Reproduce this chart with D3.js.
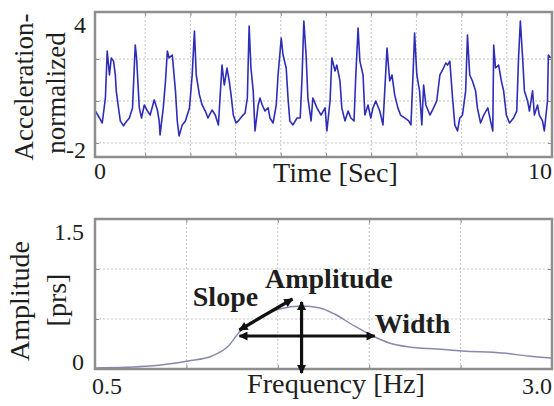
<!DOCTYPE html>
<html lang="en">
  <head>
    <meta charset="utf-8">
    <title>Acceleration signal and amplitude spectrum</title>
    <script src="https://d3js.org/d3.v7.min.js"></script>
    <style>
      body { margin: 0; background: #fff; }
    </style>
  </head>
  <body>
  <div id="chart"></div>
<script>

// acceleration trace
var accTime = [-0.10,-0.01,0.05,0.12,0.16,0.21,0.25,0.30,0.34,0.36,0.41,0.45,0.52,0.56,0.65,0.72,0.78,0.81,0.87,0.92,
  0.98,1.05,1.11,1.20,1.27,1.31,1.33,1.40,1.45,1.49,1.53,1.60,1.67,1.71,1.75,1.82,1.89,1.98,2.04,2.09,
  2.13,2.20,2.26,2.33,2.39,2.48,2.55,2.62,2.66,2.70,2.75,2.81,2.86,2.90,2.95,3.01,3.06,3.15,3.21,3.26,
  3.30,3.34,3.39,3.43,3.50,3.54,3.59,3.65,3.72,3.76,3.83,3.90,3.94,4.01,4.05,4.12,4.16,4.20,4.27,4.36,
  4.43,4.47,4.51,4.56,4.60,4.67,4.71,4.80,4.89,4.98,5.02,5.09,5.13,5.20,5.24,5.31,5.35,5.42,5.49,5.55,
  5.62,5.66,5.71,5.75,5.82,5.86,5.93,5.99,6.04,6.10,6.19,6.26,6.30,6.35,6.41,6.46,6.52,6.59,6.65,6.74,
  6.83,6.88,6.94,6.96,7.01,7.07,7.12,7.16,7.21,7.30,7.38,7.45,7.52,7.60,7.65,7.69,7.74,7.80,7.85,7.91,
  7.96,8.02,8.09,8.13,8.18,8.24,8.31,8.35,8.42,8.49,8.58,8.64,8.69,8.71,8.75,8.82,8.88,8.93,8.99,9.06,
  9.15,9.22,9.26,9.30,9.35,9.39,9.46,9.50,9.57,9.61,9.68,9.72,9.79,9.83,9.90,9.92,9.97];
var accValue = [-0.48,-0.81,-1.05,0.14,2.38,1.24,2.05,1.90,1.24,0.48,-0.33,-0.95,-1.19,-1.05,-0.81,-0.33,2.67,2.05,-0.33,-0.81,
  -0.19,-0.48,-0.67,0.05,-0.43,-0.95,-1.62,-0.33,0.95,2.38,2.05,2.19,0.48,-0.95,-1.67,-1.14,-0.95,-0.33,1.24,3.33,
  1.24,0.29,-0.19,-0.48,-0.81,-0.43,-0.67,-1.14,0.29,1.71,0.76,1.57,0.95,0.29,-0.67,-1.05,-0.95,-0.71,-0.57,0.14,
  3.57,1.57,0.48,-1.43,-0.19,0.14,-0.19,-0.48,-0.33,-0.81,-1.05,-0.19,1.24,3.00,2.19,1.57,0.14,-0.95,-1.14,-0.81,
  -0.81,1.10,3.81,2.19,0.14,-0.95,0.14,-0.33,-0.67,-0.33,-1.43,0.00,2.05,1.43,1.71,0.95,-0.33,-0.95,-0.48,-0.81,
  -0.95,1.24,3.48,1.90,1.24,-0.67,-0.19,-0.81,-0.33,0.00,-0.48,-1.14,0.48,2.52,0.95,1.24,0.29,-0.33,-0.67,-0.81,
  -0.95,-1.14,2.05,3.24,1.24,0.48,-1.14,0.76,-0.19,-0.67,-0.33,0.00,1.24,1.57,1.81,1.71,1.90,0.14,-1.14,-1.43,
  -0.81,-0.67,0.48,3.14,1.24,0.95,0.48,-0.33,-1.05,-0.67,-0.33,-0.95,-1.43,2.67,1.57,1.71,0.95,0.48,-0.67,-1.05,
  -0.81,-0.48,2.05,3.81,2.05,0.48,0.00,-0.48,0.48,-0.67,-0.19,-0.67,-0.95,-1.43,0.00,2.19,2.05];
var accXGrid = [1, 2, 3, 4, 5, 6, 7, 8, 9];
var accYGrid = [-2, 0, 2];
var accXLabels = [0, 10];
var accYLabels = [-2, 4];

// amplitude spectrum, bottom panel
var specFreq = [0.50, 0.80, 1.01, 1.14, 1.23, 1.29, 1.40, 1.51, 1.63, 1.73, 1.81, 1.91, 2.02, 2.11, 2.22, 2.37, 2.51, 2.73, 2.87, 3.00];
var specAmp  = [0.01, 0.03, 0.08, 0.13, 0.23, 0.37, 0.52, 0.60, 0.63, 0.61, 0.55, 0.44, 0.33, 0.26, 0.22, 0.20, 0.18, 0.16, 0.13, 0.11];
var specXGrid = [1.0, 1.5, 2.0, 2.5];
var specYGrid = [0.5, 1.0];
var specXLabels = [0.5, 3.0];
var specYLabels = [0, 1.5];

// feature annotations on the spectrum [freq, amp]
var slopeArrow = [[1.29, 0.39], [1.58, 0.70]];
var widthArrow = [[1.29, 0.33], [2.03, 0.33]];
var ampArrow   = [[1.63, 0.67], [1.63, -0.04]];
var noteNames  = ["Slope", "Amplitude", "Width"];
var noteFreq   = [1.035, 1.43, 2.03];
var noteAmp    = [0.63, 0.81, 0.36];

var serif = "'Liberation Serif', 'Times New Roman', Times, serif";

var svg = d3.select("#chart")
  .append("svg")
    .attr("width", 554)
    .attr("height", 406)
    .attr("font-family", serif)
    .style("font-family", serif);

var defs = svg.append("defs");
defs.append("marker")
    .attr("id", "head")
    .attr("viewBox", "0 0 10 10")
    .attr("refX", 9).attr("refY", 5)
    .attr("markerWidth", 11).attr("markerHeight", 9)
    .attr("markerUnits", "userSpaceOnUse")
    .attr("orient", "auto-start-reverse")
  .append("path")
    .attr("d", "M0,0 L10,5 L0,10 z")
    .attr("fill", "#111");

// draws grid and inner ticks for one panel
var drawPanel = function(g, x, y, gridX, gridY) {
  var x0 = x.range()[0], x1 = x.range()[1];
  var y0 = y.range()[0], y1 = y.range()[1];

  g.append("g").selectAll("line").data(gridX).enter().append("line")
      .attr("x1", d => x(d)).attr("x2", d => x(d))
      .attr("y1", y1).attr("y2", y0)
      .attr("stroke", "#c4c4c4").attr("stroke-dasharray", "2,2");
  g.append("g").selectAll("line").data(gridY).enter().append("line")
      .attr("x1", x0).attr("x2", x1)
      .attr("y1", d => y(d)).attr("y2", d => y(d))
      .attr("stroke", "#c4c4c4").attr("stroke-dasharray", "2,2");

  // little inward ticks
  var axes = [
    [d3.axisBottom(x).tickValues(gridX), "translate(0," + y0 + ")"],
    [d3.axisTop(x).tickValues(gridX), "translate(0," + y1 + ")"],
    [d3.axisLeft(y).tickValues(gridY), "translate(" + x0 + ",0)"],
    [d3.axisRight(y).tickValues(gridY), "translate(" + x1 + ",0)"]
  ];
  axes.forEach(function(a) {
    var ax = g.append("g").attr("transform", a[1])
      .call(a[0].tickSize(-4).tickFormat(""));
    ax.select(".domain").remove();
    ax.selectAll("line").attr("stroke", "#888");
  });
}

var drawFrame = function(g, x, y) {
  g.append("rect")
      .attr("x", x.range()[0]).attr("y", y.range()[1])
      .attr("width", x.range()[1] - x.range()[0])
      .attr("height", y.range()[0] - y.range()[1])
      .attr("fill", "none")
      .attr("stroke", "#8e8e8e")
      .attr("stroke-width", 2.5);
}

var label = function(g, txt, size) {
  return g.append("text")
      .style("font-family", serif)
      .style("font-size", size + "px")
      .attr("fill", "#1e1e1e")
      .text(txt);
}

// ---------- top panel ----------
var xAcc = d3.scaleLinear().domain([-0.11, 10]).range([95, 552]);
var yAcc = d3.scaleLinear().domain([-2.67, 4.24]).range([157, 12]);
var gTop = svg.append("g");
drawPanel(gTop, xAcc, yAcc, accXGrid, accYGrid);

var accLine = d3.line()
    .x((d, i) => xAcc(accTime[i]))
    .y(d => yAcc(d));
gTop.append("path")
    .datum(accValue)
    .attr("d", accLine)
    .attr("fill", "none")
    .attr("stroke", "#2d2db8")
    .attr("stroke-width", 1.6)
    .attr("stroke-linejoin", "round");
drawFrame(gTop, xAcc, yAcc);

accYLabels.forEach(function(d) {
  label(gTop, d, 24)
      .attr("x", 86)
      .attr("y", yAcc(d) + (d > 0 ? 16 : 15))
      .attr("text-anchor", "end");
});
accXLabels.forEach(function(d, i) {
  label(gTop, d, 24)
      .attr("x", i == 0 ? xAcc(d) : xAcc.range()[1])
      .attr("y", 179)
      .attr("text-anchor", i == 0 ? "middle" : "end");
});
label(gTop, "Time [Sec]", 28)
    .attr("x", 273).attr("y", 182)
    .attr("textLength", 125).attr("lengthAdjust", "spacingAndGlyphs");
label(gTop, "Acceleration-", 27)
    .attr("transform", "translate(33,87) rotate(-90)")
    .attr("text-anchor", "middle");
label(gTop, "normalized", 27)
    .attr("transform", "translate(65,93) rotate(-90)")
    .attr("text-anchor", "middle");

// ---------- bottom panel ----------
var xSpec = d3.scaleLinear().domain([0.5, 3.0]).range([95, 552]);
var ySpec = d3.scaleLinear().domain([0, 1.5]).range([369, 219]);
var gBot = svg.append("g");
drawPanel(gBot, xSpec, ySpec, specXGrid, specYGrid);

var specLine = d3.line()
    .x((d, i) => xSpec(specFreq[i]))
    .y(d => ySpec(d))
    .curve(d3.curveMonotoneX);
gBot.append("path")
    .datum(specAmp)
    .attr("d", specLine)
    .attr("fill", "none")
    .attr("stroke", "#8489ad")
    .attr("stroke-width", 1.4);
drawFrame(gBot, xSpec, ySpec);

[slopeArrow, widthArrow, ampArrow].forEach(function(a) {
  gBot.append("line")
      .attr("x1", xSpec(a[0][0])).attr("y1", ySpec(a[0][1]))
      .attr("x2", xSpec(a[1][0])).attr("y2", ySpec(a[1][1]))
      .attr("stroke", "#111")
      .attr("stroke-width", 3.2)
      .attr("marker-start", "url(#head)")
      .attr("marker-end", "url(#head)");
});

noteNames.forEach(function(d, i) {
  label(gBot, d, 28)
      .attr("x", xSpec(noteFreq[i]))
      .attr("y", ySpec(noteAmp[i]))
      .style("font-weight", "bold");
});

specYLabels.forEach(function(d) {
  label(gBot, d, 24)
      .attr("x", 84)
      .attr("y", d > 0 ? ySpec(d) + 21 : ySpec(d) + 1)
      .attr("text-anchor", "end");
});
specXLabels.forEach(function(d, i) {
  label(gBot, d.toFixed(1), 24)
      .attr("x", i == 0 ? xSpec(d) - 3 : xSpec.range()[1])
      .attr("y", 394)
      .attr("text-anchor", i == 0 ? "start" : "end");
});
label(gBot, "Frequency [Hz]", 28)
    .attr("x", 247).attr("y", 393)
    .attr("textLength", 178).attr("lengthAdjust", "spacingAndGlyphs");
label(gBot, "Amplitude", 28)
    .attr("transform", "translate(29,301) rotate(-90)")
    .attr("text-anchor", "middle");
label(gBot, "[prs]", 28)
    .attr("transform", "translate(66,300) rotate(-90)")
    .attr("text-anchor", "middle");

</script>
  </body>
</html>
